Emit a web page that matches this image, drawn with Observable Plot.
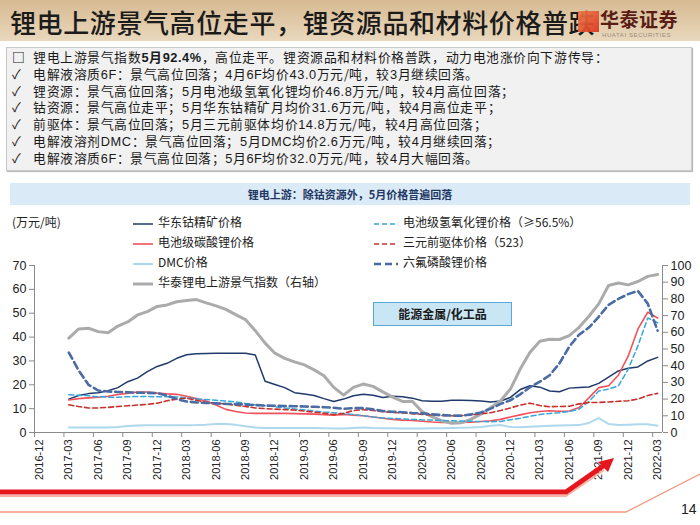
<!DOCTYPE html>
<html><head><meta charset="utf-8">
<script src="https://cdn.jsdelivr.net/npm/d3@7"></script>
<script src="https://cdn.jsdelivr.net/npm/@observablehq/plot@0.6"></script>
<style>
@font-face{font-family:"CJKTight";src:local("Noto Sans CJK SC"),local("Noto Sans CJK SC Regular"),local("NotoSansCJKsc-Regular");font-weight:400;ascent-override:86%;descent-override:14%;line-gap-override:0%;}
@font-face{font-family:"CJKTight";src:local("Noto Sans CJK SC Bold"),local("NotoSansCJKsc-Bold");font-weight:700;ascent-override:86%;descent-override:14%;line-gap-override:0%;}
html,body{margin:0;padding:0;}
body{width:700px;height:525px;overflow:hidden;background:#fff;position:relative;font-family:"Noto Sans CJK SC","Liberation Sans",sans-serif;color:#1a1a1a;}
.abs{position:absolute;}
#titlebar{left:0;top:0;width:700px;height:41px;background:linear-gradient(to bottom,#d7ba92,#e9d8bd);}
#title{left:10px;top:3px;font-size:26px;letter-spacing:0.6px;color:#1b1b1b;white-space:nowrap;font-weight:500;}
#logo{left:578px;top:9px;width:120px;height:30px;}
#logo .sq{position:absolute;left:0;top:2px;width:21px;height:21px;background:linear-gradient(135deg,#f07a4a,#d9341c);opacity:0.92;}
#logo .cn{position:absolute;left:22px;top:0px;height:20px;line-height:20px;font-size:19px;font-weight:700;color:#5a1d16;letter-spacing:0.5px;white-space:nowrap;}
#logo .en{position:absolute;left:24px;top:23px;font-size:6px;line-height:7px;color:#9a8a80;font-family:"Liberation Sans",sans-serif;letter-spacing:0.6px;white-space:nowrap;}
#box{left:6px;top:47px;width:684px;height:122px;background:#f1f1f1;border:1px solid #c8c8c8;box-shadow:1px 1px 1px #bbb;}
.bl{position:absolute;left:12px;font-family:"CJKTight","Noto Sans CJK SC",sans-serif;font-size:12.8px;letter-spacing:0.55px;white-space:nowrap;line-height:16px;height:16px;}
.bl .m{display:inline-block;width:21px;}
.num{font-family:"Liberation Sans",sans-serif;}
#ctitle{left:10px;top:183px;width:680px;height:22px;background:#dbeaf7;text-align:center;font-size:11px;line-height:22px;font-weight:700;color:#1f3864;}
#unit{left:12px;top:213px;font-size:12px;color:#222;}
.lg{position:absolute;font-size:12px;color:#222;white-space:nowrap;line-height:16px;}
.lg svg{vertical-align:middle;margin-right:5px;}
#energy{left:373px;top:302px;width:137px;height:22px;background:#c9e6f5;border:1px solid #5aa7d3;text-align:center;font-size:12px;line-height:22px;font-weight:700;color:#1a1a1a;}
#chart{left:0;top:200px;}
#deco{left:0;top:0;pointer-events:none;}
#page{left:681px;top:501px;font-size:14px;font-family:"Liberation Sans",sans-serif;color:#222;}
</style></head>
<body>
<div id="titlebar" class="abs"></div>
<div id="title" class="abs">锂电上游景气高位走平，锂资源品和材料价格普跌</div>
<div id="logo" class="abs"><div class="sq"></div><div class="cn">华泰证券</div><div class="en">HUATAI SECURITIES</div></div>
<div id="box" class="abs"></div>
<div id="bullets"></div>
<div id="ctitle" class="abs">锂电上游：除钴资源外，5月价格普遍回落</div>
<div id="unit" class="abs">(万元/吨)</div>
<div id="legend"></div>
<div id="chart" class="abs"></div>
<div id="energy" class="abs">能源金属/化工品</div>
<svg id="deco" class="abs" width="700" height="525">
  <polyline points="0,496 566,496 604,470" fill="none" stroke="#f6b3a3" stroke-width="2"/>
  <polyline points="0,492 566,492 606,464" fill="none" stroke="#e5161c" stroke-width="5"/>
  <polygon points="614,458 598,462 608,472" fill="#e5161c"/>
  <polyline points="0,512 626,512 700,474" fill="none" stroke="#f29a80" stroke-width="1.3"/>
</svg>
<div id="page" class="abs">14</div>
<script>
// ---------- text ----------
const bulletLines = [
  ["□", "锂电上游景气指数<b class='num'>5</b><b>月</b><b class='num'>92.4%</b>，高位走平。锂资源品和材料价格普跌，动力电池涨价向下游传导："],
  ["✓", "电解液溶质<span class='num'>6F</span>：景气高位回落；<span class='num'>4</span>月<span class='num'>6F</span>均价<span class='num'>43.0</span>万元/吨，较<span class='num'>3</span>月继续回落。"],
  ["✓", "锂资源：景气高位回落；<span class='num'>5</span>月电池级氢氧化锂均价<span class='num'>46.8</span>万元/吨，较<span class='num'>4</span>月高位回落；"],
  ["✓", "钴资源：景气高位走平；<span class='num'>5</span>月华东钴精矿月均价<span class='num'>31.6</span>万元/吨，较<span class='num'>4</span>月高位走平；"],
  ["✓", "前驱体：景气高位回落；<span class='num'>5</span>月三元前驱体均价<span class='num'>14.8</span>万元/吨，较<span class='num'>4</span>月高位回落；"],
  ["✓", "电解液溶剂<span class='num'>DMC</span>：景气高位回落；<span class='num'>5</span>月<span class='num'>DMC</span>均价<span class='num'>2.6</span>万元/吨，较<span class='num'>4</span>月继续回落；"],
  ["✓", "电解液溶质<span class='num'>6F</span>：景气高位回落；<span class='num'>5</span>月<span class='num'>6F</span>均价<span class='num'>32.0</span>万元/吨，较<span class='num'>4</span>月大幅回落。"]
];

// ---------- data ----------
const xTickLabels = ["2016-12","2017-03","2017-06","2017-09","2017-12","2018-03","2018-06","2018-09","2018-12","2019-03","2019-06","2019-09","2019-12","2020-03","2020-06","2020-09","2020-12","2021-03","2021-06","2021-09","2021-12","2022-03"];
const yLeftTicks = [0,10,20,30,40,50,60,70];
const yRightTicks = [0,10,20,30,40,50,60,70,80,90,100];
const firstDataMonth = 3; // 2017-03, months after 2016-12

const cobaltPrice = [14,15.5,16.3,16.7,17.5,18.8,21.3,22.8,25.5,27.7,29,31.1,32.6,33,33.1,33.2,33.2,33.2,33.2,32.5,21.5,20.1,18.8,16.7,16.1,15.5,14.2,13,14,15.4,16,15.6,14.7,15.2,15,14.4,13.3,13.1,13.1,13.5,13.5,13.4,13.2,12.8,13.2,14.7,18,19.6,19,17.4,17.1,18.6,18.9,19.1,20.6,23.2,25.8,26.9,27.5,30,31.5];
const li2co3Price = [13.6,14.2,14.5,14.8,15.2,15.9,16.4,17,17,16.5,16.2,16,15.2,14.2,13.2,11.5,9.7,8.8,8.2,8,8,8,8,7.9,7.8,7.7,7.5,7.2,7.6,7.3,7,6.5,6,5.5,5.2,5,4.7,4.4,4.2,4.2,4.2,4.3,4.6,4.9,5.5,6.5,7.4,8.3,8.8,9.1,8.9,9,10.5,14.5,18.8,19.6,24,32,43.4,50.4,48];
const dmcPrice = [2.1,2.1,2.1,2.1,2.1,2.3,2.7,2.9,3,3,3,3,3,3.1,3.3,3.6,3.6,3.2,2.6,2.1,1.9,1.9,1.9,1.9,1.9,1.9,1.8,1.7,1.7,1.9,2.1,1.9,1.8,1.8,1.7,1.7,1.7,1.8,1.8,1.9,2,2.1,2.3,2.8,3.1,2.3,2.2,2.4,2.6,2.8,2.9,3,3.1,4,6,3.6,3.1,3.3,3.5,3.5,2.8];
const boomIndex = [56.5,62,62.4,60.4,59.8,63.7,66.2,70.4,72.4,75.5,76.4,78.3,79.1,79.6,77.6,75.8,73.7,70.6,67.6,61,53.5,47.5,44.4,42.3,40.5,37.5,34,27,22.4,27,29,27.6,24.3,21.2,18.6,18.7,12.5,9.5,7,5.5,5.8,8,11,15,19,26,38,48,54.6,55.8,55.7,58,63,69.6,77,88,89.5,88.4,90.4,93.5,94.6];
const lioh = [15.8,15.6,15.4,15,14.8,14.8,15,15.1,15.1,15,15,14.9,14.5,14.1,13.8,13.5,13.2,12.8,12.2,11.6,11.2,10.8,10.3,9.9,9.5,9,8.6,8.3,7.9,7.5,7,6.5,6.1,5.9,5.7,5.5,5.3,5.2,5.1,4.9,4.8,4.7,4.6,4.5,4.6,5.3,6,6.8,7.5,8,8.3,8.8,9.8,13,17.4,18.2,19.5,26.5,36.4,48,46];
const precursor = [11.6,10.9,10.3,10.3,10.5,10.9,11.2,11.5,11.8,12.3,13.3,14,14.4,13.5,12.6,12.4,11.9,11.4,10.9,10.3,10,9.8,9.6,9.4,9,8.5,8.1,7.5,8,9.2,9.6,9.2,8.7,8.4,8.2,7.9,7.6,7.3,7.1,7,7.1,7.4,7.8,8.3,9.2,10.3,11.5,12.3,11.3,10.8,10.9,11,12,12.6,12.6,12.8,13.1,13.3,14,15.5,16.4];
const lipf6 = [33.5,26,20,17.6,17.2,17,16.9,16.7,16.6,16.5,15.5,14,13,12.6,12.4,12.2,12,11.9,11.7,11.5,11.3,11.2,11.1,11,10.9,10.8,10.6,10.4,9.9,10.2,10.2,9.7,9,8.7,8.5,8.2,8,7.6,7.3,7.1,7,7.6,8.4,10,12,13.5,16,19,21.3,24,29,36,41,44,48.5,53.5,56,58,59.3,54,42.7];

const series = [
  {name:"华东钴精矿价格", values:cobaltPrice, axis:"left", color:"#1f3a6b", width:1.5, dash:null, col:0, row:0},
  {name:"电池级碳酸锂价格", values:li2co3Price, axis:"left", color:"#f2515a", width:1.6, dash:null, col:0, row:1},
  {name:"DMC价格", values:dmcPrice, axis:"left", color:"#aed8ee", width:2, dash:null, col:0, row:2},
  {name:"华泰锂电上游景气指数（右轴）", values:boomIndex, axis:"right", color:"#ababab", width:3, dash:null, col:0, row:3},
  {name:"电池级氢氧化锂价格（≥56.5%）", values:lioh, axis:"left", color:"#35a7dc", width:1.5, dash:"5,3", col:1, row:0},
  {name:"三元前驱体价格（523）", values:precursor, axis:"left", color:"#c9302c", width:1.6, dash:"5,3", col:1, row:1},
  {name:"六氟磷酸锂价格", values:lipf6, axis:"left", color:"#4a6ba3", width:2.6, dash:"7,4", col:1, row:2}
];

const rightToLeft = 70 / 100;
const nMonths = 64; // 2016-12 .. 2022-03

// ---------- bullets ----------
const bl = document.getElementById("bullets");
bulletLines.forEach(([mk, txt], i) => {
  const d = document.createElement("div");
  d.className = "bl";
  d.style.top = (50 + i * 16.8) + "px";
  d.innerHTML = `<span class="m" style="${i===0?'font-weight:700':''}">${mk}</span>${txt}`;
  bl.appendChild(d);
});

// ---------- legend ----------
const lg = document.getElementById("legend");
const colX = [133, 374];
const rowY = [214, 234, 254, 274];
series.forEach(s => {
  const d = document.createElement("div");
  d.className = "lg";
  d.style.left = colX[s.col] + "px";
  d.style.top = rowY[s.row] + "px";
  const w = s.col === 0 ? 20 : 24;
  d.innerHTML = `<svg width="${w}" height="6"><line x1="0" x2="${w}" y1="3" y2="3" stroke="${s.color}" stroke-width="${s.width}" ${s.dash?`stroke-dasharray="${s.dash}"`:""}/></svg>${s.name}`;
  lg.appendChild(d);
});

// ---------- chart ----------
const rows = s => s.values.map((v, k) => ({x: firstDataMonth + k + 0.5, y: s.axis === "right" ? v * rightToLeft : v}));
const axisColor = "#8a8a8a";
const chart = Plot.plot({
  width: 700,
  height: 290,
  marginTop: 65,
  marginBottom: 58,
  marginLeft: 34,
  marginRight: 38,
  x: {type: "linear", domain: [0, nMonths], axis: null},
  y: {domain: [0, 70], axis: null},
  style: {fontFamily: "'Liberation Sans', Arial, sans-serif", fontSize: "12px", color: "#222", background: "transparent", overflow: "visible"},
  marks: [
    Plot.axisY(yLeftTicks, {anchor: "left", tickSize: 5, tickPadding: 3, stroke: axisColor, label: null, fontSize: 12.5}),
    Plot.axisY(yRightTicks.map(v => v * rightToLeft), {anchor: "right", tickSize: 5, tickPadding: 3, stroke: axisColor, label: null, fontSize: 12.5, tickFormat: v => String(Math.round(v / rightToLeft))}),
    Plot.axisX(xTickLabels.map((_, k) => 3 * k), {anchor: "bottom", tickSize: 5, stroke: axisColor, tickFormat: () => "", label: null}),
    Plot.axisX(xTickLabels.map((_, k) => 3 * k + 0.5), {anchor: "bottom", tickSize: 0, tickPadding: 7, tickRotate: -90, label: null, fontSize: 11, tickFormat: v => xTickLabels[Math.round((v - 0.5) / 3)]}),
    Plot.ruleY([0], {stroke: axisColor}),
    Plot.ruleX([0, nMonths], {stroke: axisColor}),
    ...series.map(s => Plot.line(rows(s), {x: "x", y: "y", stroke: s.color, strokeWidth: s.width, strokeDasharray: s.dash || undefined, strokeLinejoin: "round"}))
  ]
});
document.getElementById("chart").appendChild(chart);
</script>
</body></html>
